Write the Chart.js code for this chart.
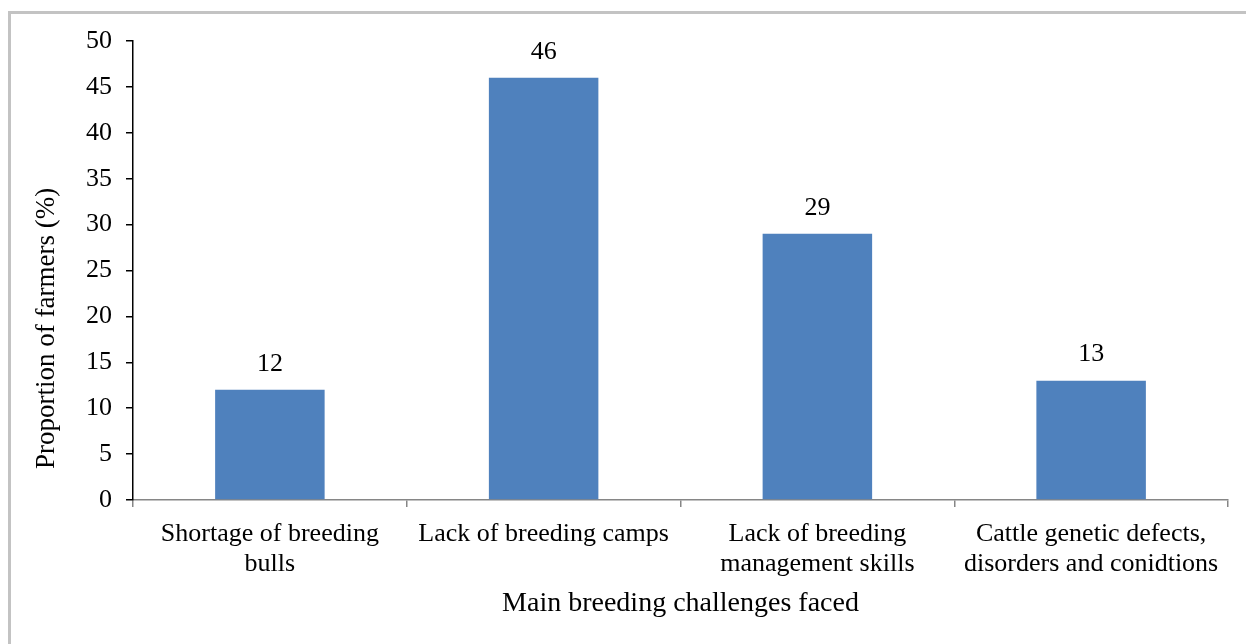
<!DOCTYPE html>
<html>
<head>
<meta charset="utf-8">
<script src="https://cdn.jsdelivr.net/npm/chart.js@4.4.0/dist/chart.umd.min.js"></script>
<style>
  html, body { margin: 0; padding: 0; background: #ffffff; overflow: hidden; }
  #wrap { position: relative; width: 1246px; height: 644px; }
  #frame { position: absolute; left: 8px; top: 11px; width: 1300px; height: 700px;
           border-left: 3px solid #c3c3c3; border-top: 3px solid #c3c3c3; box-sizing: border-box; }
  canvas { position: absolute; left: 0; top: 0; }
</style>
</head>
<body>
<div id="wrap">
  <div id="frame"></div>
  <canvas id="c" width="1246" height="644"></canvas>
</div>
<script>
const categories = [
  ["Shortage of breeding", "bulls"],
  ["Lack of breeding camps"],
  ["Lack of breeding", "management skills"],
  ["Cattle genetic defects,", "disorders and conidtions"]
];
const values = [12, 46, 29, 13];
const yTicks = [0, 5, 10, 15, 20, 25, 30, 35, 40, 45, 50];
const xTitle = "Main breeding challenges faced";
const yTitle = "Proportion of farmers (%)";

const FONT = "'Liberation Serif', 'Times New Roman', serif";

const labelPlugin = {
  id: 'valueLabels',
  afterDatasetsDraw(chart) {
    const ctx = chart.ctx;
    const meta = chart.getDatasetMeta(0);
    ctx.save();
    ctx.font = "26px " + FONT;
    ctx.fillStyle = "#000";
    ctx.textAlign = "center";
    ctx.textBaseline = "middle";
    meta.data.forEach((bar, i) => {
      ctx.fillText(String(values[i]), bar.x, bar.y - 26);
    });
    ctx.restore();
  }
};

const yTitlePlugin = {
  id: 'yTitle',
  afterDraw(chart) {
    const ctx = chart.ctx;
    const area = chart.chartArea;
    ctx.save();
    ctx.font = "27px " + FONT;
    ctx.fillStyle = "#000";
    ctx.textAlign = "center";
    ctx.textBaseline = "middle";
    ctx.translate(47, area.top + (area.bottom - area.top) * 0.626);
    ctx.rotate(-Math.PI / 2);
    ctx.fillText(yTitle, 0, 0);
    ctx.restore();
  }
};

new Chart(document.getElementById('c'), {
  type: 'bar',
  data: {
    labels: categories,
    datasets: [{
      data: values,
      backgroundColor: '#4F81BD',
      borderWidth: 0,
      categoryPercentage: 0.8,
      barPercentage: 0.5
    }]
  },
  options: {
    responsive: false,
    animation: false,
    layout: { padding: { left: 0, right: 18, top: 41, bottom: 0 } },
    plugins: { legend: { display: false }, tooltip: { enabled: false } },
    scales: {
      x: {
        offset: true,
        grid: { display: true, offset: true, drawOnChartArea: false, drawTicks: true, tickLength: 7, color: '#868686', lineWidth: 1.5 },
        border: { display: true, color: '#868686', width: 1.5 },
        ticks: { color: '#000', font: { family: FONT, size: 26, lineHeight: 1.17 }, padding: 12, maxRotation: 0, autoSkip: false },
        title: { display: true, text: xTitle, color: '#000', font: { family: FONT, size: 28 }, padding: { top: 0, bottom: 24 } },
        afterFit(scale) { scale.height = 144; }
      },
      y: {
        min: 0, max: 50,
        afterBuildTicks(scale) { scale.ticks = yTicks.map(v => ({ value: v })); },
        grid: { display: true, drawOnChartArea: false, drawTicks: true, tickLength: 7, color: '#000', lineWidth: 1.5 },
        border: { display: true, color: '#000', width: 1.5 },
        ticks: { color: '#000', font: { family: FONT, size: 26 }, padding: 14 },
        title: { display: false },
        afterFit(scale) { scale.width = 133; }
      }
    }
  },
  plugins: [labelPlugin, yTitlePlugin]
});
</script>
</body>
</html>
